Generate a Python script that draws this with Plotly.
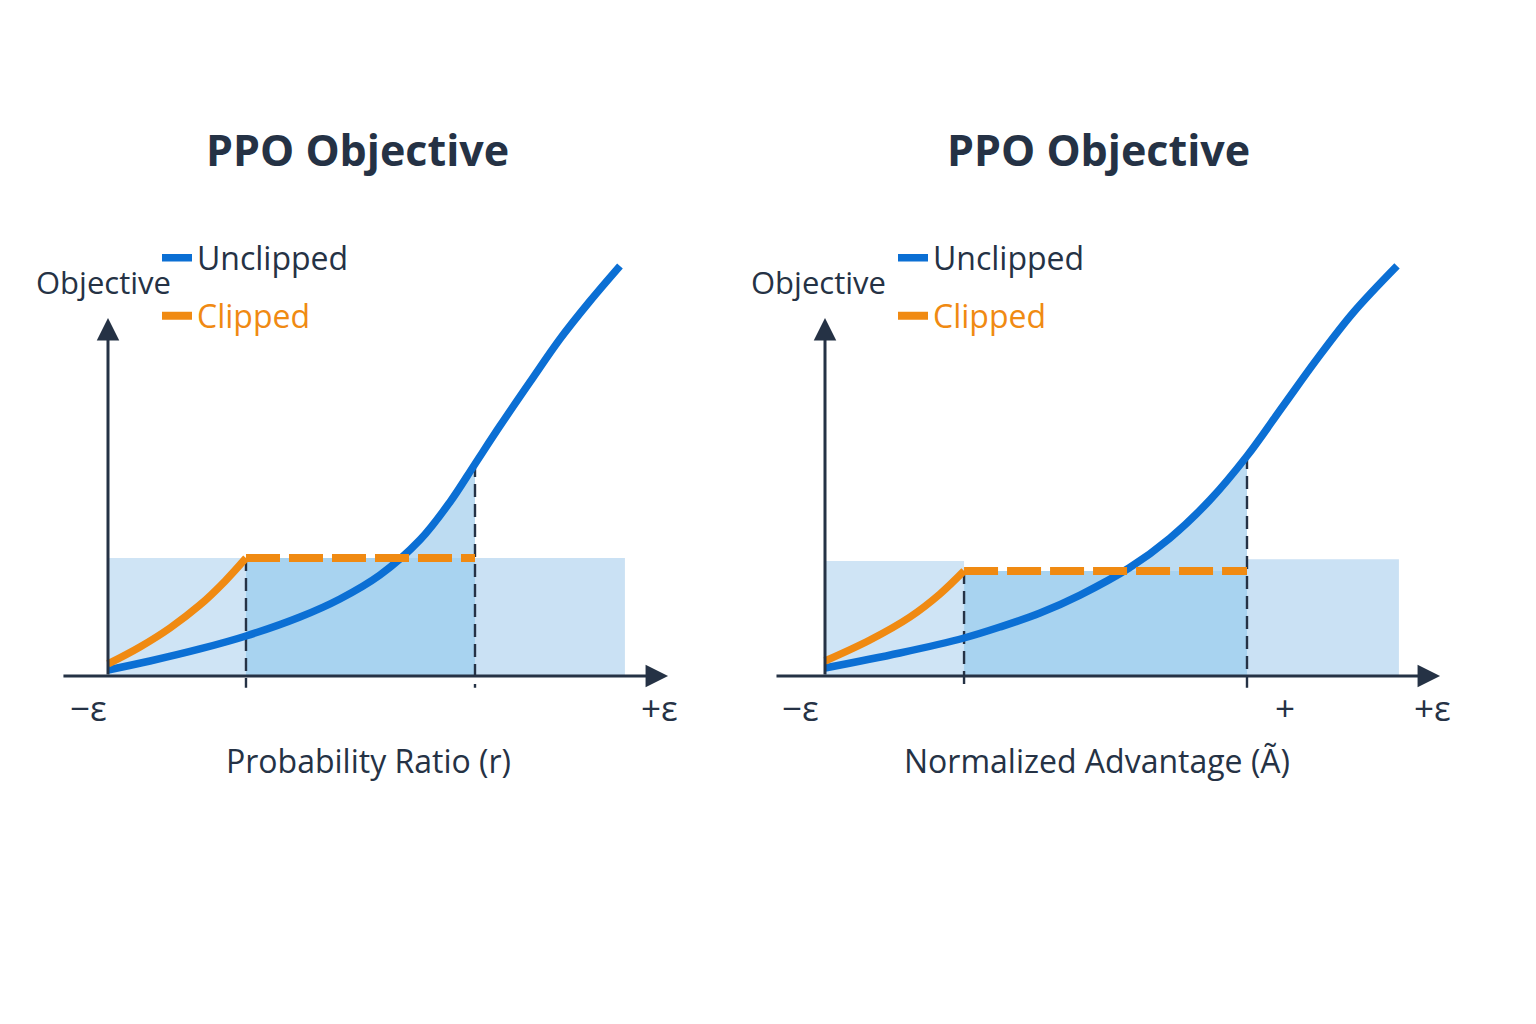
import plotly.graph_objects as go

# ---------------- data ----------------
# Left panel: Probability Ratio (r)
L_blue_x = [0.0, 0.229, 0.501, 0.752, 1.046, 1.264, 1.482, 1.700, 1.864, 2.0, 2.136, 2.300, 2.463, 2.627, 2.790]
L_blue_y = [0.051, 0.127, 0.229, 0.339, 0.500, 0.653, 0.856, 1.153, 1.475, 1.797, 2.119, 2.492, 2.856, 3.178, 3.475]
L_orange_x = [0.0, 0.174, 0.338, 0.501, 0.638, 0.752]
L_orange_y = [0.102, 0.246, 0.407, 0.602, 0.805, 1.0]
L_clip_lo, L_clip_hi, L_clip_level = 0.752, 2.0, 1.0
L_region_end = 2.817
L_region_tops = [1.0, 1.0]          # left / right light regions

# Right panel: Normalized Advantage
R_blue_x = [0.0, 0.355, 0.659, 0.829, 1.019, 1.209, 1.441, 1.635, 1.825, 2.0, 2.171, 2.332, 2.502, 2.711]
R_blue_y = [0.068, 0.195, 0.322, 0.415, 0.534, 0.686, 0.915, 1.169, 1.492, 1.864, 2.288, 2.686, 3.076, 3.475]
R_orange_x = [0.0, 0.213, 0.403, 0.545, 0.659]
R_orange_y = [0.127, 0.305, 0.500, 0.695, 0.890]
R_clip_lo, R_clip_hi, R_clip_level = 0.659, 2.0, 0.890
R_region_end = 2.72
R_region_tops = [0.975, 0.99]

titles = ["PPO Objective", "PPO Objective"]
x_titles = ["Probability Ratio (r)", "Normalized Advantage (Ã)"]
y_title = "Objective"
legend_names = ["Unclipped", "Clipped"]
L_ticks = [(-0.109, "−ε"), (3.008, "+ε")]
R_ticks = [(-0.118, "−ε"), (2.18, "+"), (2.88, "+ε")]

# ---------------- style ----------------
W, H = 1536, 1024
DARK = "#253245"
BLUE = "#0b6fd4"
ORANGE = "#f08a12"
LIGHT = "#cfe4f5"
LIGHT_R = "#cae1f4"
MID = "#a8d3f0"
ABOVE = "#bddcf2"
FONT = "Open Sans"

# pixel calibration of each panel (origin pixel, px per unit)
# helper subplots (x/y, x2/y2) are drawn first; main subplots (x3/y3, x4/y4) on top
panels = [
    dict(ox=108, oy=676, sx=183.5, sy=118, dom=[0.0, 0.5], xa="x3", ya="y3", cx="x", cy="y",
         bx=L_blue_x, by=L_blue_y, ox_=L_orange_x, oy_=L_orange_y,
         lo=L_clip_lo, hi=L_clip_hi, lvl=L_clip_level, end=L_region_end, tops=L_region_tops,
         ticks=L_ticks, xaxis_from=-0.251, xaxis_to=3.052, yaxis_to=3.034,
         title_x=1.362, xt_x=1.417, obj_x=-0.022, leg=("legend", "legend2"), legx=157),
    dict(ox=825, oy=676, sx=211, sy=118, dom=[0.5, 1.0], xa="x4", ya="y4", cx="x2", cy="y2",
         bx=R_blue_x, by=R_blue_y, ox_=R_orange_x, oy_=R_orange_y,
         lo=R_clip_lo, hi=R_clip_hi, lvl=R_clip_level, end=R_region_end, tops=R_region_tops,
         ticks=R_ticks, xaxis_from=-0.237, xaxis_to=2.915, yaxis_to=3.034,
         title_x=1.294, xt_x=1.289, obj_x=-0.033, leg=("legend3", "legend4"), legx=893),
]

fig = go.Figure()
annotations = []


def rect(x0, x1, y0, y1):
    return [x0, x1, x1, x0, x0], [y0, y0, y1, y1, y0]


for i, p in enumerate(panels):
    xa, ya = p["xa"], p["ya"]
    common = dict(xaxis=xa, yaxis=ya, hoverinfo="skip", showlegend=False)
    # area under the unclipped curve, drawn on a helper subplot that ends at the upper clip
    fig.add_trace(go.Scatter(x=p["bx"], y=p["by"], fill="tozeroy", fillcolor=ABOVE, mode="lines",
                             line=dict(width=0, shape="spline"), xaxis=p["cx"], yaxis=p["cy"],
                             hoverinfo="skip", showlegend=False))
    # light region left of the lower clip
    rx, ry = rect(0, p["lo"], 0, p["tops"][0])
    fig.add_trace(go.Scatter(x=rx, y=ry, fill="toself", fillcolor=LIGHT, mode="none", **common))
    # light region right of the upper clip
    rx, ry = rect(p["hi"], p["end"], 0, p["tops"][1])
    fig.add_trace(go.Scatter(x=rx, y=ry, fill="toself", fillcolor=LIGHT_R, mode="none", **common))
    # middle clipped region
    rx, ry = rect(p["lo"], p["hi"], 0, p["lvl"])
    fig.add_trace(go.Scatter(x=rx, y=ry, fill="toself", fillcolor=MID, mode="none", **common))

    # dashed verticals at clip boundaries
    top_hi = p["by"][p["bx"].index(p["hi"])]
    for xv, yt in [(p["lo"], p["lvl"]), (p["hi"], top_hi)]:
        fig.add_trace(go.Scatter(x=[xv, xv], y=[yt, -0.1], mode="lines",
                                 line=dict(color=DARK, width=2.4, dash="13px,7px"), **common))

    # unclipped curve
    fig.add_trace(go.Scatter(x=p["bx"], y=p["by"], mode="lines", name=legend_names[0],
                             line=dict(color=BLUE, width=7.5, shape="spline"),
                             xaxis=xa, yaxis=ya, hoverinfo="skip", legend=p["leg"][0]))
    # clipped curve: rising part then flat dashed
    fig.add_trace(go.Scatter(x=p["ox_"], y=p["oy_"], mode="lines",
                             line=dict(color=ORANGE, width=7.5, shape="spline"), **common))
    fig.add_trace(go.Scatter(x=[p["lo"], p["hi"]], y=[p["lvl"], p["lvl"]], mode="lines",
                             name=f"<span style='color:{ORANGE}'>{legend_names[1]}</span>",
                             line=dict(color=ORANGE, width=8, dash="34px,9px"),
                             xaxis=xa, yaxis=ya, hoverinfo="skip", legend=p["leg"][1]))

    # axis arrows
    ref = dict(xref=xa, yref=ya, axref=xa, ayref=ya, text="", showarrow=True,
               arrowhead=2, arrowsize=1.5, arrowwidth=3, arrowcolor=DARK, standoff=0)
    annotations.append(dict(x=p["xaxis_to"], y=0, ax=p["xaxis_from"], ay=0, **ref))
    annotations.append(dict(x=0, y=p["yaxis_to"], ax=0, ay=0, **ref))

    txt = dict(xref=xa, yref=ya, showarrow=False, font=dict(family=FONT, color=DARK, size=31))
    tick_txt = dict(xref=xa, yref=ya, showarrow=False, font=dict(family=FONT, color=DARK, size=35))
    for tx, tt in p["ticks"]:
        annotations.append(dict(x=tx, y=-0.271, text=tt, **tick_txt))
    annotations.append(dict(x=p["xt_x"], y=-0.712, text=x_titles[i],
                            xref=xa, yref=ya, showarrow=False,
                            font=dict(family=FONT, color=DARK, size=32)))
    annotations.append(dict(x=p["obj_x"], y=3.339, text=y_title, **txt))
    annotations.append(dict(x=p["title_x"], y=4.458, text=titles[i], xref=xa, yref=ya, showarrow=False,
                            font=dict(family=FONT, color=DARK, size=43, weight="bold")))

layout = dict(
    width=W, height=H, margin=dict(l=0, r=0, t=0, b=0),
    paper_bgcolor="white", plot_bgcolor="rgba(0,0,0,0)",
    annotations=annotations, showlegend=True,
)
axis_names = {"x": "xaxis", "x2": "xaxis2", "x3": "xaxis3", "x4": "xaxis4",
              "y": "yaxis", "y2": "yaxis2", "y3": "yaxis3", "y4": "yaxis4"}
for p in panels:
    px0 = p["dom"][0] * W
    px1 = p["dom"][1] * W
    yr = [(p["oy"] - H) / p["sy"], p["oy"] / p["sy"]]
    x0 = (px0 - p["ox"]) / p["sx"]
    layout[axis_names[p["xa"]]] = dict(domain=p["dom"], range=[x0, (px1 - p["ox"]) / p["sx"]],
                                       visible=False, anchor=p["ya"], fixedrange=True)
    layout[axis_names[p["ya"]]] = dict(domain=[0, 1], range=yr, visible=False,
                                       anchor=p["xa"], fixedrange=True)
    # helper axes: same scale, but the plot area stops at the upper clip boundary
    hi_px = p["ox"] + p["hi"] * p["sx"]
    layout[axis_names[p["cx"]]] = dict(domain=[p["dom"][0], hi_px / W], range=[x0, p["hi"]],
                                       visible=False, anchor=p["cy"], fixedrange=True)
    layout[axis_names[p["cy"]]] = dict(domain=[0, 1], range=yr, visible=False,
                                       anchor=p["cx"], fixedrange=True)
    for j, (lname, ypx) in enumerate(zip(p["leg"], [258, 316])):
        layout[lname] = dict(x=p["legx"] / W, y=1 - ypx / H, xanchor="left", yanchor="middle",
                             bgcolor="rgba(0,0,0,0)", font=dict(family=FONT, size=32, color=DARK),
                             itemwidth=30)

fig.update_layout(**layout)
fig.write_html("out.html")
